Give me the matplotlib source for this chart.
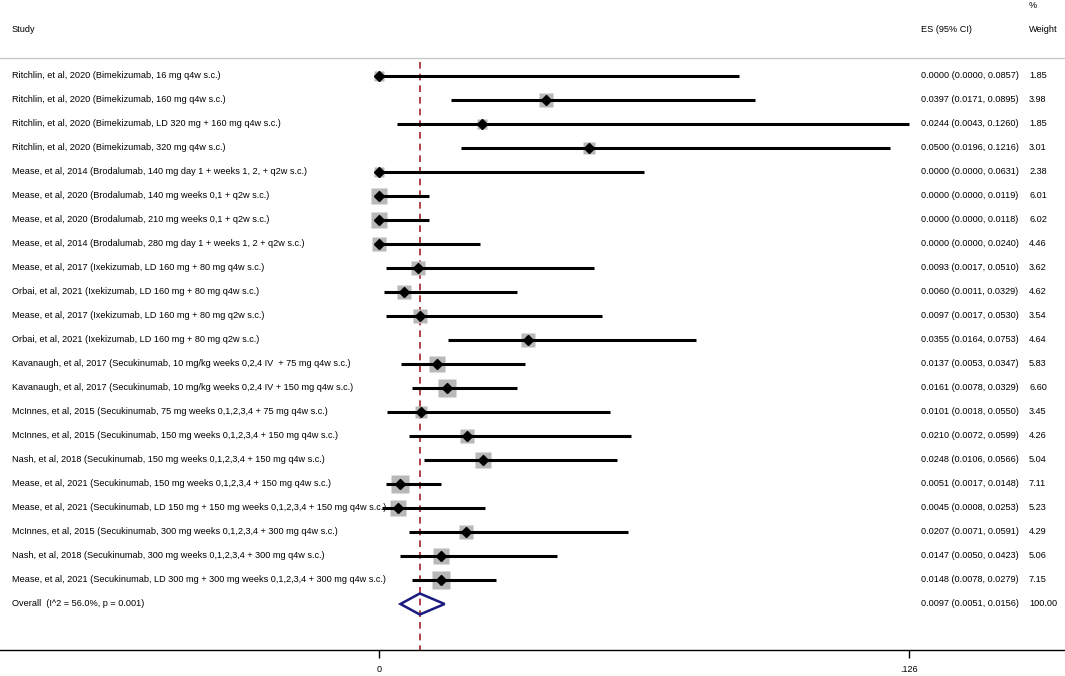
import matplotlib
matplotlib.use("Agg")
import matplotlib.pyplot as plt
from matplotlib.patches import Polygon
import matplotlib.transforms as mtransforms

plt.rcParams['font.family'] = ['Liberation Sans', 'DejaVu Sans']

studies = [
    "Ritchlin, et al, 2020 (Bimekizumab, 16 mg q4w s.c.)",
    "Ritchlin, et al, 2020 (Bimekizumab, 160 mg q4w s.c.)",
    "Ritchlin, et al, 2020 (Bimekizumab, LD 320 mg + 160 mg q4w s.c.)",
    "Ritchlin, et al, 2020 (Bimekizumab, 320 mg q4w s.c.)",
    "Mease, et al, 2014 (Brodalumab, 140 mg day 1 + weeks 1, 2, + q2w s.c.)",
    "Mease, et al, 2020 (Brodalumab, 140 mg weeks 0,1 + q2w s.c.)",
    "Mease, et al, 2020 (Brodalumab, 210 mg weeks 0,1 + q2w s.c.)",
    "Mease, et al, 2014 (Brodalumab, 280 mg day 1 + weeks 1, 2 + q2w s.c.)",
    "Mease, et al, 2017 (Ixekizumab, LD 160 mg + 80 mg q4w s.c.)",
    "Orbai, et al, 2021 (Ixekizumab, LD 160 mg + 80 mg q4w s.c.)",
    "Mease, et al, 2017 (Ixekizumab, LD 160 mg + 80 mg q2w s.c.)",
    "Orbai, et al, 2021 (Ixekizumab, LD 160 mg + 80 mg q2w s.c.)",
    "Kavanaugh, et al, 2017 (Secukinumab, 10 mg/kg weeks 0,2,4 IV  + 75 mg q4w s.c.)",
    "Kavanaugh, et al, 2017 (Secukinumab, 10 mg/kg weeks 0,2,4 IV + 150 mg q4w s.c.)",
    "McInnes, et al, 2015 (Secukinumab, 75 mg weeks 0,1,2,3,4 + 75 mg q4w s.c.)",
    "McInnes, et al, 2015 (Secukinumab, 150 mg weeks 0,1,2,3,4 + 150 mg q4w s.c.)",
    "Nash, et al, 2018 (Secukinumab, 150 mg weeks 0,1,2,3,4 + 150 mg q4w s.c.)",
    "Mease, et al, 2021 (Secukinumab, 150 mg weeks 0,1,2,3,4 + 150 mg q4w s.c.)",
    "Mease, et al, 2021 (Secukinumab, LD 150 mg + 150 mg weeks 0,1,2,3,4 + 150 mg q4w s.c.)",
    "McInnes, et al, 2015 (Secukinumab, 300 mg weeks 0,1,2,3,4 + 300 mg q4w s.c.)",
    "Nash, et al, 2018 (Secukinumab, 300 mg weeks 0,1,2,3,4 + 300 mg q4w s.c.)",
    "Mease, et al, 2021 (Secukinumab, LD 300 mg + 300 mg weeks 0,1,2,3,4 + 300 mg q4w s.c.)",
]
es = [0.0000, 0.0397, 0.0244, 0.0500, 0.0000, 0.0000, 0.0000, 0.0000,
      0.0093, 0.0060, 0.0097, 0.0355, 0.0137, 0.0161, 0.0101, 0.0210,
      0.0248, 0.0051, 0.0045, 0.0207, 0.0147, 0.0148]
lo = [0.0000, 0.0171, 0.0043, 0.0196, 0.0000, 0.0000, 0.0000, 0.0000,
      0.0017, 0.0011, 0.0017, 0.0164, 0.0053, 0.0078, 0.0018, 0.0072,
      0.0106, 0.0017, 0.0008, 0.0071, 0.0050, 0.0078]
hi = [0.0857, 0.0895, 0.1260, 0.1216, 0.0631, 0.0119, 0.0118, 0.0240,
      0.0510, 0.0329, 0.0530, 0.0753, 0.0347, 0.0329, 0.0550, 0.0599,
      0.0566, 0.0148, 0.0253, 0.0591, 0.0423, 0.0279]
weight = [1.85, 3.98, 1.85, 3.01, 2.38, 6.01, 6.02, 4.46, 3.62, 4.62, 3.54,
          4.64, 5.83, 6.60, 3.45, 4.26, 5.04, 7.11, 5.23, 4.29, 5.06, 7.15]
overall_label = "Overall  (I^2 = 56.0%, p = 0.001)"
overall_es, overall_lo, overall_hi, overall_w = 0.0097, 0.0051, 0.0156, 100.00
xticks = [0, 0.126]
xticklabels = ["0", ".126"]

W, H = 1065, 676
fig = plt.figure(figsize=(W / 100, H / 100), dpi=100)
axis_y = 650
ax = fig.add_axes([0, (H - axis_y) / H, 1, axis_y / H])
px_per_unit = (909 - 379) / 0.126
ax.set_xlim(-379 / px_per_unit, (W - 379) / px_per_unit)
ax.set_ylim(axis_y, 0)
for s in ['top', 'left', 'right']:
    ax.spines[s].set_visible(False)
ax.spines['bottom'].set_linewidth(1.0)
ax.set_yticks([])
ax.set_xticks(xticks)
ax.set_xticklabels(xticklabels)
ax.tick_params(axis='x', direction='out', length=6, width=1.0, labelsize=6.5, pad=5)

fs = 6.55
row0, step = 76, 24
rows = [row0 + step * i for i in range(len(studies))]
y_over = row0 + step * len(studies)

trans = mtransforms.blended_transform_factory(fig.transFigure, ax.transData)

# header
ax.text(12 / W, 29, "Study", transform=trans, fontsize=fs, va='center', ha='left')
ax.text(921 / W, 29, "ES (95% CI)", transform=trans, fontsize=fs, va='center', ha='left')
ax.text(1029 / W, 5, "%", transform=trans, fontsize=fs, va='center', ha='left')
ax.text(1029 / W, 29, "Weight", transform=trans, fontsize=fs, va='center', ha='left')
ax.plot([0, 1], [58, 58], transform=trans, color='#c8c8c8', lw=1.0, clip_on=False)

# reference line
ax.plot([overall_es, overall_es], [62, axis_y], color='#a3202c', lw=1.2,
        ls=(0, (4, 3)), zorder=1)

maxw = max(weight)
for y, lab, e, l, h, w in zip(rows, studies, es, lo, hi, weight):
    ax.plot([l, h], [y, y], color='black', lw=2.2, solid_capstyle='butt', zorder=2)
    ms = 18.5 * 0.72 * (w / maxw) ** 0.5
    ax.plot([e], [y], marker='s', ms=ms, color='#b8b8b8', mec='none', zorder=1.5)
    ax.plot([e], [y], marker='D', ms=5.2, color='black', zorder=3)
    ax.text(12 / W, y, lab, transform=trans, fontsize=fs, va='center', ha='left')
    ax.text(921 / W, y, f"{e:.4f} ({l:.4f}, {h:.4f})", transform=trans,
            fontsize=fs, va='center', ha='left')
    ax.text(1029 / W, y, f"{w:.2f}", transform=trans, fontsize=fs, va='center', ha='left')

diamond = Polygon([[overall_lo, y_over], [overall_es, y_over - 10.5],
                   [overall_hi, y_over], [overall_es, y_over + 10.5]],
                  closed=True, fill=False, edgecolor='#1a1a80', lw=1.8, zorder=3)
ax.add_patch(diamond)
ax.text(12 / W, y_over, overall_label, transform=trans, fontsize=fs, va='center', ha='left')
ax.text(921 / W, y_over, f"{overall_es:.4f} ({overall_lo:.4f}, {overall_hi:.4f})",
        transform=trans, fontsize=fs, va='center', ha='left')
ax.text(1029 / W, y_over, f"{overall_w:.2f}", transform=trans, fontsize=fs,
        va='center', ha='left')

fig.savefig("out.png", dpi=100)
